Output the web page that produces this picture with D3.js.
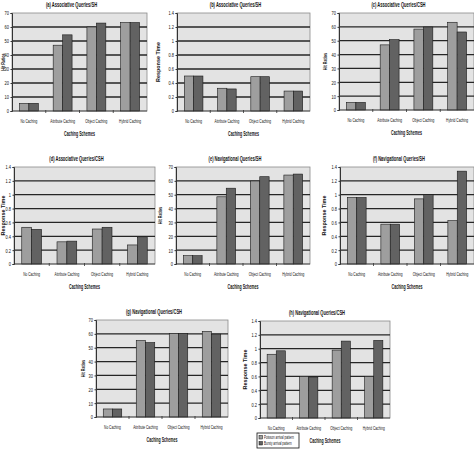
<!DOCTYPE html>
<html>
<head>
<meta charset="utf-8">
<script src="https://cdn.jsdelivr.net/npm/d3@7"></script>
<style>
  body { margin: 0; background: #fff; }
  svg text { font-family: "Liberation Sans", Arial, sans-serif; fill: #111; }
</style>
</head>
<body>
<svg id="chart" width="474" height="451"></svg>
<script>
// values
const categories = ["No Caching", "Attribute Caching", "Object Caching", "Hybrid Caching"];
const seriesNames = ["Poisson arrival pattern", "Bursty arrival pattern"];

const hitTicks = [0, 10, 20, 30, 40, 50, 60, 70];
const timeTicks = [0, 0.2, 0.4, 0.6, 0.8, 1, 1.2, 1.4];

// [poisson, bursty] per category
const assocShHit   = [[5.5, 5.5], [47, 54.4], [60, 62.8], [63.2, 63.2]];
const assocShTime  = [[0.5, 0.5], [0.325, 0.315], [0.49, 0.49], [0.285, 0.285]];
const assocCshHit  = [[5.5, 5.5], [47, 50.8], [58.4, 59.9], [63.3, 56.3]];
const assocCshTime = [[0.53, 0.5], [0.32, 0.33], [0.505, 0.53], [0.275, 0.38]];
const navShHit     = [[6, 6], [48.5, 54.7], [59.9, 63], [64.2, 64.9]];
const navShTime    = [[0.96, 0.96], [0.575, 0.575], [0.94, 1.0], [0.625, 1.34]];
const navCshHit    = [[5.8, 5.8], [55.2, 53.7], [60.3, 60.3], [61.8, 59.8]];
const navCshTime   = [[0.92, 0.97], [0.6, 0.59], [0.98, 1.11], [0.6, 1.12]];

const titles = ["(a) Associative Queries/SH", "(b) Associative Queries/SH",
                "(c) Associative Queries/CSH", "(d) Associative Queries/CSH",
                "(e) Navigational Queries/SH", "(f) Navigational Queries/SH",
                "(g) Navigational Queries/CSH", "(h) Navigational Queries/CSH"];

// layout of the 8 small panels
const panels = [
  {title: titles[0], data: assocShHit,   kind: "hit",  x0: 12,  y0: 13,  x1: 147, y1: 111, yt: 7},
  {title: titles[1], data: assocShTime,  kind: "time", x0: 177, y0: 13,  x1: 310, y1: 111, yt: 17},
  {title: titles[2], data: assocCshHit,  kind: "hit",  x0: 339, y0: 13,  x1: 474, y1: 110, yt: 12},
  {title: titles[3], data: assocCshTime, kind: "time", x0: 14,  y0: 167, x1: 155, y1: 264, yt: 9},
  {title: titles[4], data: navShHit,     kind: "hit",  x0: 176, y0: 167, x1: 310, y1: 264, yt: 14},
  {title: titles[5], data: navShTime,    kind: "time", x0: 340, y0: 167, x1: 474, y1: 264, yt: 14},
  {title: titles[6], data: navCshHit,    kind: "hit",  x0: 96,  y0: 320, x1: 228, y1: 417, yt: 11},
  {title: titles[7], data: navCshTime,   kind: "time", x0: 260, y0: 321, x1: 390, y1: 418, yt: 13, legend: true}
];

const barColors = ["#9e9e9e", "#626262"];

const svg = d3.select("#chart");

// squeeze text horizontally, the source font is very condensed
function squeeze(sel, k) {
  sel.each(function() {
    const w = this.getComputedTextLength();
    d3.select(this).attr("textLength", w * k).attr("lengthAdjust", "spacingAndGlyphs");
  });
}

panels.forEach(p => {
  const g = svg.append("g");
  const ticks = p.kind === "hit" ? hitTicks : timeTicks;

  const x = d3.scaleBand().domain(categories).range([p.x0, p.x1]);
  const y = d3.scaleLinear().domain([0, ticks[ticks.length - 1]]).range([p.y1, p.y0]);

  // plot background
  g.append("rect")
    .attr("x", p.x0).attr("y", p.y0)
    .attr("width", p.x1 - p.x0).attr("height", p.y1 - p.y0)
    .attr("fill", "#e3e3e3").attr("stroke", "#8a8a8a").attr("stroke-width", 0.8);

  // gridlines
  g.selectAll(".grid")
    .data(ticks.slice(1, -1))
    .join("line")
    .attr("x1", p.x0).attr("x2", p.x1)
    .attr("y1", d => y(d)).attr("y2", d => y(d))
    .attr("stroke", "#262626").attr("stroke-width", 1.3);

  // bars
  const bw = x.bandwidth() * 0.28;
  const grp = g.selectAll(".cat")
    .data(categories.map((c, i) => ({c, v: p.data[i]})))
    .join("g");
  grp.selectAll("rect")
    .data(d => d.v.map((v, j) => ({c: d.c, v, j})))
    .join("rect")
    .attr("x", d => x(d.c) + x.bandwidth() * 0.22 + d.j * bw)
    .attr("y", d => y(d.v))
    .attr("width", bw)
    .attr("height", d => y(0) - y(d.v))
    .attr("fill", d => barColors[d.j])
    .attr("stroke", "#1a1a1a").attr("stroke-width", 0.6);

  // y axis
  const fmt = p.kind === "hit" ? d3.format("d") : (d => String(+d.toFixed(1)));
  const ya = g.append("g")
    .attr("transform", `translate(${p.x0},0)`)
    .call(d3.axisLeft(y).tickValues(ticks).tickSize(1.5).tickPadding(1.5).tickFormat(fmt));
  ya.select(".domain").attr("stroke", "#333");
  ya.selectAll("line").attr("stroke", "#333");
  ya.selectAll("text").attr("font-size", 5.8).attr("fill", "#111").call(squeeze, 0.68);

  // x axis
  g.append("line")
    .attr("x1", p.x0).attr("x2", p.x1)
    .attr("y1", p.y1).attr("y2", p.y1)
    .attr("stroke", "#333").attr("stroke-width", 0.8);
  g.selectAll(".xt")
    .data(categories.slice(1))
    .join("line")
    .attr("x1", d => x(d)).attr("x2", d => x(d))
    .attr("y1", p.y1 - 1).attr("y2", p.y1 + 2)
    .attr("stroke", "#333").attr("stroke-width", 0.8);

  g.selectAll(".xl")
    .data(categories)
    .join("text")
    .attr("x", d => x(d) + x.bandwidth() / 2)
    .attr("y", p.y1 + 12)
    .attr("text-anchor", "middle")
    .attr("font-size", 6.2)
    .text(d => d)
    .call(squeeze, 0.52);

  const cx = (p.x0 + p.x1) / 2;

  g.append("text")
    .attr("x", cx).attr("y", p.y1 + 25)
    .attr("text-anchor", "middle")
    .attr("font-size", 6.5).attr("font-weight", "bold")
    .text("Caching Schemes")
    .call(squeeze, 0.55);

  // title
  g.append("text")
    .attr("x", cx - 8).attr("y", p.y0 - 6)
    .attr("text-anchor", "middle")
    .attr("font-size", 6.5).attr("font-weight", "bold")
    .text(p.title)
    .call(squeeze, 0.62);

  // y title
  const ty = (p.y0 + p.y1) / 2;
  g.append("text")
    .attr("transform", `translate(${p.x0 - p.yt},${ty}) rotate(-90)`)
    .attr("text-anchor", "middle")
    .attr("font-size", 6).attr("font-weight", "bold")
    .text(p.kind === "hit" ? "Hit Ratios" : "Response Time")
    .call(squeeze, p.kind === "hit" ? 0.62 : 0.9);

  if (p.legend) {
    const lg = g.append("g").attr("transform", `translate(${p.x0 - 3},${p.y1 + 15})`);
    lg.append("rect")
      .attr("width", 42).attr("height", 15)
      .attr("fill", "#fff").attr("stroke", "#111").attr("stroke-width", 0.8);
    seriesNames.forEach((s, i) => {
      lg.append("rect")
        .attr("x", 2).attr("y", 2.5 + i * 6)
        .attr("width", 3.5).attr("height", 3.5)
        .attr("fill", barColors[i]).attr("stroke", "#111").attr("stroke-width", 0.5);
      lg.append("text")
        .attr("x", 7).attr("y", 6.2 + i * 6)
        .attr("font-size", 5)
        .text(s)
        .call(squeeze, 0.6);
    });
  }
});
</script>
</body>
</html>
